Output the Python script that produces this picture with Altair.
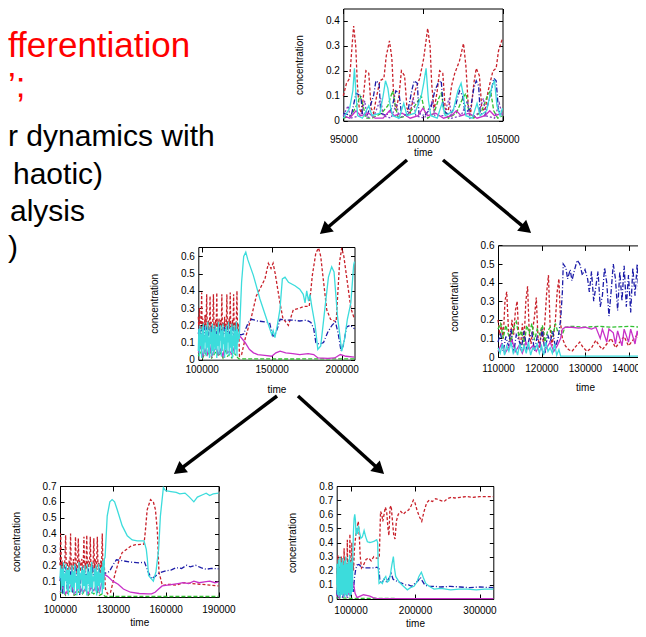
import math
import altair as alt
import pandas as pd

W, H = 630, 621
FONT = "Liberation Sans"

# ---------------- slide text (visible fragments) ----------------
SLIDE_RED = ["fferentiation", "\u2019;"]
SLIDE_BLACK = ["r dynamics with", "haotic)", "alysis", ")"]

# ---------------- tick values ----------------
A_XTICKS = [95000, 100000, 105000]
A_YTICKS = [0, 0.1, 0.2, 0.3, 0.4]
B_XTICKS = [100000, 150000, 200000]
B_YTICKS = [0, 0.1, 0.2, 0.3, 0.4, 0.5, 0.6]
C_XTICKS = [110000, 120000, 130000, 140000, 150000]
C_YTICKS = [0, 0.1, 0.2, 0.3, 0.4, 0.5, 0.6]
D_XTICKS = [100000, 130000, 160000, 190000]
D_YTICKS = [0, 0.1, 0.2, 0.3, 0.4, 0.5, 0.6, 0.7]
E_XTICKS = [100000, 200000, 300000]
E_YTICKS = [0, 0.1, 0.2, 0.3, 0.4, 0.5, 0.6, 0.7, 0.8]

# ---------------- panel A (95000-105000) ----------------
A_RED = [(95000,0.10),(95200,0.15),(95400,0.17),(95550,0.30),(95650,0.38),(95780,0.30),(95880,0.15),(96000,0.05),
         (96150,0.03),(96300,0.12),(96420,0.20),(96600,0.19),(96750,0.05),(96900,0.03),(97100,0.10),(97300,0.16),
         (97550,0.17),(97700,0.26),(97900,0.32),(98050,0.25),(98150,0.12),(98300,0.04),(98500,0.10),(98650,0.20),
         (98850,0.18),(99000,0.05),(99200,0.03),(99500,0.12),(99800,0.17),(100050,0.25),(100300,0.37),(100450,0.30),
         (100550,0.15),(100700,0.04),(100900,0.12),(101050,0.20),(101250,0.19),(101400,0.05),(101600,0.04),(101800,0.14),
         (102000,0.19),(102300,0.24),(102550,0.31),(102700,0.22),(102850,0.06),(103000,0.03),(103200,0.15),(103350,0.21),
         (103550,0.18),(103700,0.05),(103900,0.04),(104100,0.12),(104400,0.20),(104600,0.21),(104750,0.28),(104900,0.31),
         (105000,0.33)]
A_BLUE = [(95000,0.03),(95500,0.02),(95700,0.08),(95800,0.11),(96100,0.10),(96200,0.03),(96500,0.02),(96900,0.10),
          (97050,0.16),(97250,0.15),(97350,0.03),(97700,0.02),(98050,0.05),(98300,0.12),(98500,0.11),(98650,0.03),
          (99000,0.02),(99300,0.12),(99450,0.16),(99650,0.15),(99750,0.03),(100100,0.02),(100500,0.05),(100750,0.12),
          (100950,0.15),(101150,0.16),(101300,0.04),(101700,0.02),(102050,0.06),(102300,0.12),(102500,0.10),(102650,0.03),
          (103000,0.05),(103200,0.13),(103350,0.16),(103500,0.14),(103600,0.03),(103900,0.02),(104300,0.12),(104450,0.17),
          (104600,0.16),(104750,0.04),(105000,0.02)]
A_CYAN = [(95000,0.01),(95400,0.05),(95600,0.12),(95700,0.21),(95800,0.10),(95900,0.02),(96200,0.01),(96600,0.06),
          (96800,0.02),(97300,0.03),(97500,0.10),(97650,0.16),(97800,0.13),(97950,0.06),(98100,0.02),(98500,0.01),
          (98800,0.07),(99000,0.02),(99500,0.03),(99900,0.10),(100050,0.15),(100200,0.21),(100350,0.08),(100500,0.02),
          (100900,0.01),(101200,0.07),(101400,0.02),(101900,0.04),(102200,0.12),(102400,0.15),(102550,0.10),(102700,0.02),
          (103100,0.01),(103400,0.07),(103600,0.02),(104000,0.04),(104350,0.14),(104500,0.16),(104650,0.06),(104850,0.02),
          (105000,0.05)]
A_GREEN = [(95000,0.01),(95500,0.02),(95900,0.07),(96050,0.10),(96250,0.06),(96400,0.01),(96800,0.01),(97400,0.03),
           (97800,0.06),(98100,0.12),(98300,0.05),(98450,0.01),(99000,0.02),(99500,0.06),(99900,0.10),(100100,0.04),
           (100300,0.01),(100700,0.03),(101000,0.09),(101150,0.11),(101350,0.04),(101600,0.01),(102100,0.03),(102500,0.09),
           (102700,0.11),(102900,0.03),(103200,0.01),(103700,0.04),(104050,0.10),(104250,0.12),(104450,0.04),(104700,0.01),
           (105000,0.02)]
A_MAGENTA = [(95000,0.02),(95400,0.01),(95800,0.04),(96100,0.02),(96600,0.03),(97000,0.01),(97500,0.01),(97900,0.04),
             (98200,0.02),(98700,0.03),(99200,0.01),(99700,0.02),(100000,0.05),(100300,0.02),(100800,0.03),(101300,0.01),
             (101800,0.02),(102100,0.04),(102400,0.02),(102900,0.03),(103400,0.01),(103900,0.02),(104200,0.04),(104500,0.02),
             (105000,0.03)]
A_PURPLE = [(95000,0.02),(95300,0.06),(95450,0.01),(96100,0.02),(96350,0.08),(96500,0.01),(97000,0.03),(97350,0.09),
            (97500,0.02),(98000,0.01),(98350,0.07),(98500,0.01),(99100,0.03),(99400,0.09),(99550,0.02),(100100,0.01),
            (100600,0.08),(100750,0.02),(101300,0.02),(101650,0.09),(101800,0.01),(102400,0.02),(102800,0.08),(102950,0.01),
            (103500,0.03),(103800,0.09),(103950,0.02),(104500,0.01),(104800,0.07),(105000,0.02)]

# ---------------- panel B (97600-209100) ----------------
B_EARLY_START = 97600
B_RED_EARLY = [0.25,0.18,0.30,0.20,0.16,0.22,0.39,0.17,0.24,0.15,0.21,0.19,0.26,0.16,0.22,0.38,0.18,0.14,0.23,0.17,
               0.20,0.37,0.16,0.22,0.19,0.15,0.24,0.38,0.18,0.21,0.16,0.23,0.19,0.39,0.15,0.22,0.18,0.24,0.16,0.20,
               0.23,0.17,0.38,0.19,0.15,0.22,0.18,0.25,0.16,0.21,0.19,0.38,0.17,0.22,0.15,0.24,0.18,0.39,0.16,0.21,
               0.19,0.23,0.17,0.38,0.20,0.15,0.22,0.18,0.24,0.40,0.17,0.21,0.19]
B_RED_LATE = [(127000,0.02),(128500,0.03),(131000,0.12),(135700,0.255),(139000,0.37),(145200,0.47),(147600,0.56),
              (149500,0.53),(151000,0.56),(152500,0.50),(155900,0.33),(158000,0.24),(161900,0.20),(165400,0.29),
              (170000,0.30),(173000,0.31),(176800,0.31),(179000,0.49),(181500,0.62),(183500,0.65),(185000,0.60),
              (186500,0.49),(189300,0.29),(192000,0.235),(196000,0.22),(198500,0.57),(200000,0.65),(201500,0.60),
              (204000,0.45),(206500,0.30),(209100,0.235)]
B_CYAN_EARLY = [0.05,0.18,0.02,0.20,0.08,0.15,0.01,0.19,0.06,0.21,0.03,0.14,0.10,0.20,0.02,0.17,0.07,0.22,0.04,0.13,
                0.01,0.19,0.09,0.16,0.02,0.21,0.05,0.18,0.03,0.12,0.20,0.06,0.15,0.01,0.19,0.08,0.22,0.03,0.14,0.11,
                0.20,0.02,0.17,0.05,0.21,0.09,0.13,0.01,0.18,0.06,0.20,0.03,0.16,0.10,0.22,0.02,0.15,0.07,0.19,0.04,
                0.21,0.01,0.14,0.08,0.20,0.03,0.17,0.06,0.22,0.02,0.18,0.10,0.15]
B_CYAN_LATE = [(126800,0.12),(128500,0.45),(130000,0.60),(131500,0.625),(133000,0.58),(136900,0.49),(141600,0.353),
               (146400,0.235),(150000,0.147),(151000,0.17),(152300,0.128),(154000,0.20),(155900,0.294),(157600,0.47),
               (159500,0.48),(162000,0.45),(166600,0.43),(170000,0.41),(172500,0.38),(173800,0.33),(175000,0.40),
               (176300,0.34),(177300,0.38),(178600,0.31),(181000,0.20),(182900,0.06),(185000,0.08),(188000,0.30),
               (190500,0.48),(192800,0.54),(194500,0.51),(197000,0.25),(200000,0.05),(202000,0.12),(204000,0.235),
               (206500,0.33),(208500,0.55),(209100,0.57)]
B_BLUE_EARLY = [0.15,0.19,0.12,0.18,0.16,0.20,0.13,0.17,0.19,0.14,0.18,0.16,0.20,0.12,0.17,0.19,0.15,0.18,0.13,0.20,
                0.16,0.17,0.14,0.19,0.15,0.18,0.16,0.20,0.13,0.17,0.15,0.19,0.14,0.18,0.16,0.17]
B_BLUE_LATE = [(126100,0.147),(128000,0.145),(130000,0.15),(133300,0.216),(135500,0.235),(140000,0.225),(145000,0.22),
               (148500,0.215),(150000,0.16),(151000,0.137),(152500,0.15),(154000,0.18),(156000,0.235),(160000,0.23),
               (165000,0.23),(170000,0.225),(175000,0.23),(178000,0.216),(180000,0.18),(181500,0.10),(184000,0.09),
               (187000,0.10),(190000,0.16),(193000,0.20),(195500,0.22),(197500,0.15),(199500,0.05),(201000,0.08),
               (203500,0.19),(206000,0.20),(209100,0.18)]
B_MAGENTA_EARLY = [0.04,0.08,0.02,0.06,0.03,0.09,0.02,0.05,0.07,0.03,0.06,0.02,0.08,0.04,0.05,0.03,0.07,0.10]
B_MAGENTA_LATE = [(126500,0.14),(128000,0.13),(131000,0.10),(134000,0.06),(137000,0.04),(140000,0.03),(145000,0.025),
                  (150000,0.02),(153000,0.04),(156000,0.05),(160000,0.04),(165000,0.035),(170000,0.03),(176000,0.035),
                  (180000,0.03),(183000,0.01),(190000,0.008),(195000,0.01),(199000,0.03),(203000,0.02),(209100,0.015)]
B_GREEN_EARLY = [0.02,0.05,0.01,0.04,0.02,0.06,0.01,0.03,0.05,0.02,0.04,0.01,0.06,0.02,0.03,0.01,0.04,0.02]
B_GREEN_LATE = [(126500,0.005),(160000,0.004),(209100,0.005)]

# ---------------- panel C (110000-150000) ----------------
C_EARLY_START = 110000
C_RED_EARLY = [0.20,0.12,0.18,0.10,0.30,0.35,0.15,0.08,0.20,0.12,0.25,0.30,0.10,0.06,0.18,0.09,0.30,0.38,0.12,0.07,
               0.15,0.22,0.32,0.10,0.05,0.16,0.08,0.20,0.35,0.44,0.15,0.06,0.12,0.20,0.35,0.42,0.18]
C_RED_LATE = [(124800,0.10),(125500,0.06),(126200,0.04),(127000,0.03),(128000,0.06),(128800,0.08),(129600,0.05),
              (130500,0.03),(131500,0.05),(132500,0.09),(133300,0.06),(134000,0.04),(135000,0.07),(136000,0.10),
              (137000,0.05),(138000,0.08),(139000,0.11),(140000,0.06),(141000,0.09),(142000,0.12),(143000,0.07),
              (144000,0.10),(145000,0.05),(146000,0.09),(147000,0.12),(148000,0.07),(149000,0.10),(150000,0.08)]
C_CYAN_EARLY = [0.05,0.02,0.07,0.01,0.06,0.03,0.08,0.02,0.05,0.01,0.07,0.03,0.06,0.02,0.08,0.01,0.05,0.04,0.07,0.02,
                0.06,0.01,0.08,0.03,0.05,0.02,0.07,0.01,0.04]
C_CYAN_LATE = [(124400,0.005),(137000,0.005),(150000,0.005)]
C_BLUE_EARLY = [0.08,0.13,0.03,0.11,0.06,0.15,0.02,0.12,0.09,0.05,0.14,0.04,0.10,0.13,0.03,0.11,0.07,0.15,0.02,0.12,
                0.08,0.14,0.05,0.10,0.20]
C_BLUE_LATE = [(124800,0.35),(125000,0.50),(125600,0.48),(126000,0.42),(126600,0.47),(127000,0.41),(127500,0.46),
               (128200,0.52),(128800,0.50),(129400,0.44),(130000,0.47),(130600,0.42),(131000,0.35),(131500,0.46),
               (132000,0.30),(132500,0.38),(133000,0.46),(133500,0.27),(134000,0.33),(134500,0.48),(135000,0.40),
               (135500,0.22),(136000,0.35),(136500,0.50),(137000,0.42),(137500,0.25),(138000,0.46),(138500,0.30),
               (139000,0.49),(139500,0.27),(140000,0.44),(140500,0.24),(141000,0.48),(141500,0.33),(142000,0.50),
               (142500,0.28),(143000,0.45),(143500,0.25),(144000,0.47),(144500,0.30),(145000,0.50),(145500,0.26),
               (146000,0.44),(146500,0.28),(147000,0.48),(147500,0.30),(148000,0.46),(148500,0.27),(149000,0.45),
               (149500,0.30),(150000,0.44)]
C_GREEN_EARLY = [0.15,0.18,0.10,0.17,0.12,0.08,0.16,0.19,0.11,0.14,0.06,0.17,0.13,0.18,0.09,0.15,0.12,0.17,0.08,0.14,
                 0.16,0.11,0.18,0.13,0.12]
C_GREEN_LATE = [(124800,0.12),(125400,0.16),(127000,0.165),(130000,0.16),(133000,0.165),(136000,0.16),(140000,0.165),
                (143000,0.16),(146000,0.165),(150000,0.16)]
C_MAGENTA_EARLY = [0.03,0.07,0.02,0.05,0.09,0.03,0.06,0.02,0.08,0.04,0.06,0.03,0.07,0.02,0.05,0.08,0.03,0.06,0.10]
C_MAGENTA_LATE = [(124800,0.15),(125500,0.16),(127000,0.16),(128500,0.155),(130000,0.16),(131500,0.15),(132500,0.16),
                  (133500,0.10),(134000,0.15),(135000,0.08),(135500,0.15),(136500,0.13),(137000,0.07),(137500,0.14),
                  (138500,0.06),(139000,0.15),(140000,0.08),(140500,0.15),(141500,0.07),(142000,0.14),(143000,0.06),
                  (143500,0.15),(144500,0.08),(145000,0.15),(146000,0.07),(146500,0.14),(147500,0.06),(148000,0.15),
                  (149000,0.08),(150000,0.15)]

# ---------------- panel D (100000-190000) ----------------
D_EARLY_START = 100000
D_RED_EARLY = [0.20,0.40,0.17,0.23,0.15,0.21,0.18,0.24,0.39,0.16,0.22,0.19,0.15,0.23,0.18,0.40,0.17,0.21,0.14,0.24,
               0.19,0.16,0.38,0.20,0.15,0.22,0.37,0.18,0.23,0.16,0.20,0.24,0.17,0.21,0.38,0.15,0.22,0.18,0.39,0.16,
               0.23,0.19,0.21,0.38,0.17,0.22,0.15,0.20,0.37,0.18,0.24,0.16,0.21,0.38,0.17,0.22,0.19,0.15,0.23,0.18,
               0.40,0.17,0.22,0.19]
D_RED_LATE = [(125800,0.05),(127000,0.02),(128700,0.03),(131500,0.156),(133500,0.23),(135300,0.28),(140100,0.32),
              (143000,0.33),(147700,0.333),(148500,0.42),(149500,0.55),(151400,0.614),(153000,0.60),(154200,0.55),
              (155300,0.41),(156200,0.156),(158100,0.073),(162000,0.08),(166000,0.075),(170000,0.09),(175000,0.085),
              (180000,0.08),(185000,0.075),(190000,0.07)]
D_CYAN_EARLY = [0.12,0.20,0.03,0.18,0.07,0.22,0.02,0.15,0.10,0.21,0.04,0.17,0.01,0.19,0.08,0.14,0.03,0.20,0.06,0.16,
                0.02,0.21,0.09,0.13,0.01,0.18,0.05,0.22,0.03,0.15,0.11,0.19,0.02,0.17,0.07,0.20,0.04,0.14,0.01,0.21,
                0.08,0.16,0.03,0.19,0.06,0.22,0.02,0.13,0.10,0.18,0.04,0.20,0.01,0.16,0.07,0.21,0.03,0.15,0.09,0.19,
                0.02,0.23,0.05,0.24]
D_CYAN_LATE = [(125600,0.25),(126800,0.51),(128300,0.60),(129600,0.614),(131000,0.60),(132500,0.55),(135300,0.45),
               (138200,0.386),(141000,0.36),(143900,0.354),(147700,0.354),(149000,0.30),(149600,0.24),(150300,0.136),
               (153000,0.10),(154500,0.16),(156000,0.30),(157000,0.51),(158700,0.69),(160000,0.67),(163000,0.665),
               (166000,0.66),(168000,0.65),(171000,0.655),(173500,0.63),(176000,0.60),(178000,0.63),(181000,0.645),
               (183000,0.655),(185000,0.64),(187000,0.65),(190000,0.655)]
D_BLUE_EARLY = [0.10,0.17,0.02,0.15,0.19,0.05,0.16,0.12,0.18,0.03,0.15,0.20,0.11,0.17,0.01,0.14,0.19,0.08,0.16,0.13,
                0.18,0.04,0.15,0.20,0.10,0.17,0.02,0.14,0.18,0.09,0.16,0.15]
D_BLUE_LATE = [(125600,0.15),(128000,0.16),(130000,0.20),(132000,0.235),(135000,0.23),(140000,0.22),(145000,0.215),
               (148000,0.22),(150000,0.16),(152000,0.115),(154000,0.13),(156000,0.15),(160000,0.165),(163000,0.17),
               (166000,0.185),(169000,0.18),(172000,0.20),(174000,0.19),(177000,0.20),(180000,0.185),(183000,0.175),
               (186000,0.18),(190000,0.178)]
D_MAGENTA_EARLY = [0.03,0.06,0.02,0.05,0.08,0.02,0.04,0.07,0.03,0.05,0.02,0.06,0.04,0.08,0.03,0.10]
D_MAGENTA_LATE = [(125600,0.14),(127000,0.13),(130000,0.10),(133000,0.08),(136000,0.05),(140000,0.03),(145000,0.022),
                  (150000,0.02),(152000,0.02),(154000,0.03),(156000,0.05),(158000,0.07),(161000,0.075),(164000,0.08),
                  (167000,0.085),(170000,0.09),(173000,0.085),(176000,0.10),(179000,0.09),(182000,0.095),(185000,0.10),
                  (188000,0.09),(190000,0.095)]
D_GREEN_EARLY = [0.02,0.04,0.01,0.03,0.05,0.01,0.02,0.04,0.02,0.05,0.01,0.03,0.02,0.04,0.01,0.02]
D_GREEN_LATE = [(125600,0.004),(160000,0.003),(190000,0.003)]

# ---------------- panel E (78500-321400) ----------------
E_EARLY_START = 78500
E_RED_EARLY = [0.18,0.22,0.15,0.25,0.31,0.17,0.20,0.14,0.23,0.19,0.16,0.24,0.18,0.21,0.30,0.15,0.22,0.19,0.17,0.25,
               0.16,0.20,0.23,0.36,0.18,0.14,0.22,0.19,0.24,0.16,0.21,0.18,0.25,0.42,0.17,0.22,0.15,0.20,0.24,0.18,
               0.26,0.46,0.19,0.23,0.17,0.28,0.21,0.40,0.24,0.30,0.22,0.26]
E_RED_LATE = [(104500,0.20),(106000,0.35),(108000,0.45),(110000,0.50),(112000,0.55),(113500,0.45),(115000,0.30),
              (117000,0.22),(120000,0.24),(124000,0.28),(128000,0.29),(132000,0.27),(136000,0.30),(140000,0.29),
              (144500,0.29),(145500,0.45),(146500,0.62),(148500,0.60),(150000,0.55),(152000,0.60),(154000,0.65),
              (156000,0.62),(158000,0.50),(159500,0.45),(161200,0.646),(163000,0.66),(165000,0.55),(167000,0.45),
              (169000,0.425),(171000,0.55),(174000,0.60),(178000,0.62),(182000,0.60),(186000,0.62),(190000,0.63),
              (194000,0.66),(197400,0.70),(200000,0.68),(203000,0.63),(207000,0.58),(210400,0.55),(214000,0.62),
              (218000,0.68),(222000,0.70),(227000,0.69),(232000,0.71),(238000,0.70),(245000,0.69),(250000,0.71),
              (256000,0.72),(262000,0.715),(270000,0.72),(280000,0.725),(290000,0.72),(300000,0.725),(310000,0.725),
              (321400,0.725)]
E_CYAN_EARLY = [0.10,0.25,0.03,0.20,0.08,0.28,0.02,0.15,0.22,0.05,0.30,0.01,0.18,0.09,0.26,0.03,0.21,0.12,0.29,0.02,
                0.16,0.07,0.24,0.04,0.27,0.01,0.19,0.11,0.30,0.03,0.22,0.06,0.25,0.02,0.17,0.09,0.28,0.04,0.20,0.13,
                0.31,0.02,0.23,0.07,0.26,0.03,0.18,0.10,0.29,0.05,0.33,0.40]
E_CYAN_LATE = [(104500,0.48),(105500,0.57),(106500,0.60),(107500,0.56),(108500,0.45),(109500,0.50),(110600,0.46),
               (112100,0.52),(114000,0.47),(116000,0.43),(118300,0.44),(121000,0.485),(123500,0.44),(126100,0.405),
               (130000,0.40),(133800,0.405),(137000,0.41),(140600,0.42),(142000,0.40),(143100,0.205),(144200,0.11),
               (147000,0.12),(149300,0.11),(151500,0.14),(154600,0.16),(157000,0.12),(159700,0.13),(162000,0.18),
               (164000,0.24),(166400,0.30),(168000,0.22),(170000,0.16),(174000,0.13),(177800,0.11),(182000,0.09),
               (188100,0.065),(193000,0.08),(198400,0.09),(203000,0.12),(206000,0.16),(209800,0.19),(213000,0.15),
               (216600,0.11),(222000,0.09),(229500,0.07),(240000,0.075),(255300,0.065),(268000,0.07),(281100,0.07),
               (295000,0.065),(308000,0.07),(321400,0.07)]
E_BLUE_EARLY = [0.03,0.08,0.01,0.06,0.10,0.02,0.07,0.04,0.09,0.01,0.05,0.08,0.02,0.06,0.11,0.03,0.07,0.01,0.09,0.04,
                0.06,0.02,0.10,0.05,0.08,0.12]
E_BLUE_LATE = [(104500,0.05),(106000,0.15),(108000,0.21),(110000,0.24),(113000,0.245),(117000,0.225),(122000,0.22),
               (127000,0.22),(132000,0.22),(137000,0.22),(141000,0.225),(144000,0.215),(145500,0.13),(148000,0.11),
               (152000,0.14),(156000,0.12),(160000,0.15),(163000,0.18),(166000,0.14),(170000,0.13),(175000,0.12),
               (180000,0.11),(185000,0.10),(190000,0.10),(195000,0.09),(200000,0.11),(205000,0.13),(208000,0.155),
               (211000,0.13),(215000,0.10),(220000,0.09),(230000,0.09),(240000,0.085),(255000,0.09),(270000,0.085),
               (285000,0.08),(300000,0.085),(321400,0.08)]
E_MAGENTA_EARLY = [0.02,0.05,0.01,0.04,0.06,0.02,0.03,0.05,0.02,0.06,0.03,0.05,0.08]
E_MAGENTA_LATE = [(103500,0.12),(105000,0.10),(107000,0.04),(110000,0.01),(115000,0.02),(120000,0.03),(125000,0.025),
                  (130000,0.02),(135000,0.01),(140000,0.005),(200000,0.003),(321400,0.003)]
E_GREEN = [(78500,0.01),(100000,0.005),(170000,0.005)]

# ---------------- styling ----------------
COLORS = {"red": "#c8202a", "green": "#30c030", "blue": "#1c1ca8", "magenta": "#c830c8",
          "purple": "#8040c0", "cyan": "#3cdcdc"}
DASHES = {"red": [3, 2], "green": [4, 2], "blue": [5, 2, 1, 2], "purple": [2, 2]}
DRAW_ORDER = ["red", "green", "blue", "magenta", "purple", "cyan"]


def grid(start, step, values):
    return [(start + step * i, v) for i, v in enumerate(values)]


def panel(series, xdom, ydom, xpx, ypx, xticks, yticks, xlab_pad, xtitle_pad):
    x0, x1 = xpx
    y0, y1 = ypx
    xs = alt.Scale(domain=list(xdom), range=[x0, x1], nice=False, zero=False)
    ys = alt.Scale(domain=list(ydom), range=[y1, y0], nice=False, zero=False)
    layers = []
    for key in DRAW_ORDER:
        if key not in series:
            continue
        df = pd.DataFrame(series[key], columns=["t", "v"])
        kw = dict(color=COLORS[key], strokeWidth=1.3)
        if key in DASHES:
            kw["strokeDash"] = DASHES[key]
        layers.append(alt.Chart(df).mark_line(**kw).encode(
            x=alt.X("t:Q", scale=xs, axis=None),
            y=alt.Y("v:Q", scale=ys, axis=None)))
    anchor = pd.DataFrame({"t": [xdom[0]], "v": [ydom[0]]})

    def ax_layer(xaxis, yaxis):
        return alt.Chart(anchor).mark_point(opacity=0).encode(
            x=alt.X("t:Q", scale=xs, axis=xaxis),
            y=alt.Y("v:Q", scale=ys, axis=yaxis))

    main = ax_layer(
        alt.Axis(orient="bottom", offset=y1 - H, values=xticks, format="d", title="time",
                 tickSize=0, labelPadding=xlab_pad, titlePadding=xtitle_pad),
        alt.Axis(orient="left", offset=-x0, values=yticks, format=".1~f", title="concentration",
                 tickSize=0, labelPadding=4, titlePadding=21))
    inner = ax_layer(
        alt.Axis(orient="top", offset=-y1, values=xticks, labels=False, title=None, domain=False, tickSize=5),
        alt.Axis(orient="right", offset=x0 - W, values=yticks, labels=False, title=None, domain=False, tickSize=4))
    mirror = ax_layer(
        alt.Axis(orient="bottom", offset=y0 - H, values=xticks, labels=False, title=None, tickSize=5),
        alt.Axis(orient="left", offset=-x1, values=yticks, labels=False, title=None, tickSize=4))
    return alt.layer(*layers, main, inner, mirror).resolve_axis(x="independent", y="independent")


pA = panel({"red": A_RED, "green": A_GREEN, "blue": A_BLUE, "magenta": A_MAGENTA, "purple": A_PURPLE, "cyan": A_CYAN},
           (95000, 105000), (0, 0.45), (335.3, 494.5), (0.5, 112.7), A_XTICKS, A_YTICKS, 14, 3)
pB = panel({"red": grid(B_EARLY_START, 400, B_RED_EARLY) + B_RED_LATE,
            "green": grid(B_EARLY_START, 1600, B_GREEN_EARLY) + B_GREEN_LATE,
            "blue": grid(B_EARLY_START, 800, B_BLUE_EARLY) + B_BLUE_LATE,
            "magenta": grid(B_EARLY_START, 1600, B_MAGENTA_EARLY) + B_MAGENTA_LATE,
            "cyan": grid(B_EARLY_START, 400, B_CYAN_EARLY) + B_CYAN_LATE},
           (97600, 209100), (0, 0.655), (190.3, 346.5), (239, 351.7), B_XTICKS, B_YTICKS, 5, 10)
pC = panel({"red": grid(C_EARLY_START, 400, C_RED_EARLY) + C_RED_LATE,
            "green": grid(C_EARLY_START, 600, C_GREEN_EARLY) + C_GREEN_LATE,
            "blue": grid(C_EARLY_START, 600, C_BLUE_EARLY) + C_BLUE_LATE,
            "magenta": grid(C_EARLY_START, 800, C_MAGENTA_EARLY) + C_MAGENTA_LATE,
            "cyan": grid(C_EARLY_START, 500, C_CYAN_EARLY) + C_CYAN_LATE},
           (110000, 150000), (0, 0.6), (490, 664), (237.4, 349), C_XTICKS, C_YTICKS, 6, 9)
pD = panel({"red": grid(D_EARLY_START, 400, D_RED_EARLY) + D_RED_LATE,
            "green": grid(D_EARLY_START, 1600, D_GREEN_EARLY) + D_GREEN_LATE,
            "blue": grid(D_EARLY_START, 800, D_BLUE_EARLY) + D_BLUE_LATE,
            "magenta": grid(D_EARLY_START, 1600, D_MAGENTA_EARLY) + D_MAGENTA_LATE,
            "cyan": grid(D_EARLY_START, 400, D_CYAN_EARLY) + D_CYAN_LATE},
           (100000, 190000), (0, 0.7), (52, 210.5), (478, 589), D_XTICKS, D_YTICKS, 7, 3)
pE = panel({"red": grid(E_EARLY_START, 500, E_RED_EARLY) + E_RED_LATE,
            "green": E_GREEN,
            "blue": grid(E_EARLY_START, 1000, E_BLUE_EARLY) + E_BLUE_LATE,
            "magenta": grid(E_EARLY_START, 2000, E_MAGENTA_EARLY) + E_MAGENTA_LATE,
            "cyan": grid(E_EARLY_START, 500, E_CYAN_EARLY) + E_CYAN_LATE},
           (78500, 321400), (0, 0.8), (328.7, 485.3), (478, 591), E_XTICKS, E_YTICKS, 6, 3)

one = pd.DataFrame({"k": [0]})


def txt(s, x, y, size, color):
    return alt.Chart(one).mark_text(text=s, align="left", baseline="alphabetic", font=FONT,
                                    fontSize=size, color=color).encode(x=alt.value(x), y=alt.value(y))


texts = [
    txt(SLIDE_RED[0], 0, 49, 35, "#ff0000"),
    txt(SLIDE_RED[1], 0, 89, 35, "#ff0000"),
    txt(SLIDE_BLACK[0], 0, 138, 30, "black"),
    txt(SLIDE_BLACK[1], 5, 176, 30, "black"),
    txt(SLIDE_BLACK[2], 2, 213, 30, "black"),
    txt(SLIDE_BLACK[3], 0, 249, 30, "black"),
]


def arrow(xa, ya, xb, yb):
    xa, ya, xb, yb = xa - 8, ya - 8, xb - 8, yb - 8
    L = math.hypot(xb - xa, yb - ya)
    ux, uy = (xb - xa) / L, (yb - ya) / L
    bx, by = xb - ux * 10, yb - uy * 10
    cx, cy = xb - ux * 6, yb - uy * 6
    ang = math.degrees(math.atan2(ux, -uy)) % 360
    rule = alt.Chart(one).mark_rule(strokeWidth=3.5, color="black").encode(
        x=alt.value(xa), y=alt.value(ya), x2=alt.value(bx), y2=alt.value(by))
    head = alt.Chart(one).mark_point(shape="triangle-up", filled=True, color="black", opacity=1,
                                     size=200, angle=ang).encode(x=alt.value(cx), y=alt.value(cy))
    return [rule, head]


arrows = (arrow(407, 160, 320, 234) + arrow(443, 160, 531, 233)
          + arrow(277, 396, 174, 474) + arrow(298, 396, 384, 474))

chart = alt.layer(pA, pB, pC, pD, pE, *texts, *arrows).resolve_scale(
    x="independent", y="independent"
).properties(
    width=W, height=H, padding=0, autosize=alt.AutoSizeParams(type="none"), background="white"
).configure_view(stroke=None).configure_axis(
    grid=False, labelFont=FONT, labelFontSize=10, labelColor="black", titleFont=FONT, titleFontSize=10,
    titleFontWeight="normal", titleColor="black", domainColor="black", tickColor="black",
    labelFlush=False, labelOverlap=False, domainWidth=1, tickWidth=1
)

chart.save("out.html", embed_options={"renderer": "svg", "actions": False})
